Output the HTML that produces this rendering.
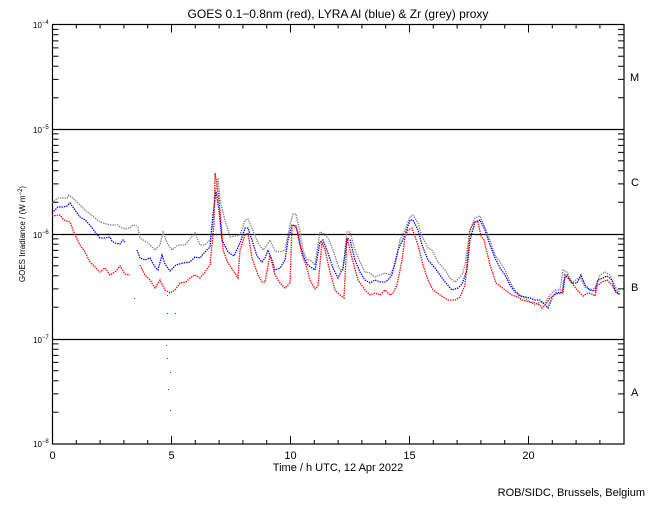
<!DOCTYPE html>
<html><head><style>
body{margin:0;background:#fff;}
svg text{font-family:"Liberation Sans",sans-serif;fill:#000;}
</style></head><body>
<svg width="650" height="500" xmlns="http://www.w3.org/2000/svg">
<rect width="650" height="500" fill="#fff"/>
<text x="338" y="18" font-size="12" text-anchor="middle">GOES 0.1−0.8nm (red), LYRA Al (blue) &amp; Zr (grey) proxy</text>
<g stroke="#000" fill="none">
<rect x="52.5" y="24.5" width="571.5" height="419.5" stroke-width="1.2"/>
<line x1="52" y1="129.5" x2="624" y2="129.5" stroke-width="1.3"/>
<line x1="52" y1="234.5" x2="624" y2="234.5" stroke-width="1.3"/>
<line x1="52" y1="339.5" x2="624" y2="339.5" stroke-width="1.3"/>
<path d="M76.3,444v-4M100.1,444v-4M123.9,444v-4M147.7,444v-4M171.5,444v-8M195.3,444v-4M219.1,444v-4M242.9,444v-4M266.7,444v-4M290.5,444v-8M314.3,444v-4M338.1,444v-4M361.9,444v-4M385.7,444v-4M409.5,444v-8M433.3,444v-4M457.1,444v-4M480.9,444v-4M504.7,444v-4M528.5,444v-8M552.3,444v-4M576.1,444v-4M599.9,444v-4"/>
<path d="M76.3,24.5v4M100.1,24.5v4M123.9,24.5v4M147.7,24.5v4M171.5,24.5v8M195.3,24.5v4M219.1,24.5v4M242.9,24.5v4M266.7,24.5v4M290.5,24.5v8M314.3,24.5v4M338.1,24.5v4M361.9,24.5v4M385.7,24.5v4M409.5,24.5v8M433.3,24.5v4M457.1,24.5v4M480.9,24.5v4M504.7,24.5v4M528.5,24.5v8M552.3,24.5v4M576.1,24.5v4M599.9,24.5v4"/>
</g>
<g stroke="#000">
<path d="M52.5,97.8h6M52.5,79.4h6M52.5,66.3h6M52.5,56.2h6M52.5,47.9h6M52.5,40.9h6M52.5,34.8h6M52.5,29.4h6
M52.5,202.3h6M52.5,183.9h6M52.5,170.8h6M52.5,160.7h6M52.5,152.4h6M52.5,145.4h6M52.5,139.3h6M52.5,133.9h6
M52.5,307.3h6M52.5,288.9h6M52.5,275.8h6M52.5,265.7h6M52.5,257.4h6M52.5,250.4h6M52.5,244.3h6M52.5,238.9h6
M52.5,412.3h6M52.5,393.9h6M52.5,380.8h6M52.5,370.7h6M52.5,362.4h6M52.5,355.4h6M52.5,349.3h6M52.5,343.9h6"/>
<path transform="translate(676.5,0) scale(-1,1)" d="M52.5,97.8h6M52.5,79.4h6M52.5,66.3h6M52.5,56.2h6M52.5,47.9h6M52.5,40.9h6M52.5,34.8h6M52.5,29.4h6
M52.5,202.3h6M52.5,183.9h6M52.5,170.8h6M52.5,160.7h6M52.5,152.4h6M52.5,145.4h6M52.5,139.3h6M52.5,133.9h6
M52.5,307.3h6M52.5,288.9h6M52.5,275.8h6M52.5,265.7h6M52.5,257.4h6M52.5,250.4h6M52.5,244.3h6M52.5,238.9h6
M52.5,412.3h6M52.5,393.9h6M52.5,380.8h6M52.5,370.7h6M52.5,362.4h6M52.5,355.4h6M52.5,349.3h6M52.5,343.9h6"/>
</g>
<g font-size="8">
<text x="33" y="28">10<tspan dy="-4" font-size="6">−4</tspan></text>
<text x="33" y="133">10<tspan dy="-4" font-size="6">−5</tspan></text>
<text x="33" y="238">10<tspan dy="-4" font-size="6">−6</tspan></text>
<text x="33" y="343">10<tspan dy="-4" font-size="6">−7</tspan></text>
<text x="33" y="447">10<tspan dy="-4" font-size="6">−8</tspan></text>
</g>
<text transform="translate(25,234) rotate(-90)" font-size="8" text-anchor="middle">GOES Irradiance / (W m<tspan dy="-3" font-size="6">−2</tspan><tspan dy="3">)</tspan></text>
<g font-size="11" text-anchor="middle">
<text x="52.5" y="459">0</text><text x="171.5" y="459">5</text><text x="290.5" y="459">10</text><text x="409.5" y="459">15</text><text x="528.5" y="459">20</text>
<text x="338" y="471" font-size="11">Time / h UTC, 12 Apr 2022</text>
</g>
<g font-size="11">
<text x="630" y="81">M</text><text x="631" y="186">C</text><text x="631" y="291">B</text><text x="631" y="396">A</text>
<text x="645" y="496" text-anchor="end">ROB/SIDC, Brussels, Belgium</text>
</g>
<g fill="none" stroke-width="1.3" stroke-dasharray="1.4 1">
<g stroke="#808080">
<polyline points="52,203 58,198 67,198 69,195 75,200 85,210 95,218 100,222 110,225 118,225 120,227 125,229 130,228 133,225 137,226"/>
<polyline points="138,227 140,238 148,243 155,250 160,245 163,232 167,243 172,250 178,245 185,245 190,239 195,233 200,245 205,245 210,240 212,228 215,195 218,178 220,200 225,220 230,237 235,236 240,235 245,220 248,219 252,228 258,243 263,250 267,245 270,240 275,251 280,252 285,250 290,225 293,214 296,214 300,232 303,250 307,260 310,260 315,265 320,232 323,233 328,238 333,250 338,265 340,270 343,270 347,232 350,232 355,250 360,262 365,272 370,273 375,277 380,275 385,273 390,275 395,265 400,240 405,230 410,217 413,215 418,223 422,236 428,248 432,250 438,262 445,270 450,278 455,282 462,275 465,265 470,230 475,218 480,216 484,225 490,240 495,255 500,262 505,270 510,282 515,290 520,295 525,298 530,302 535,305 540,302 545,303 550,295 555,290 560,290 563,270 567,272 572,283 576,280 580,277 585,287 590,290 595,288 600,275 605,272 610,275 613,282 617,290 620,292"/>
</g>
<g stroke="#0000ff">
<polyline points="52,213 58,207 63,207 67,206 70,203 75,210 80,217 85,220 90,225 95,232 100,238 105,238 110,237 112,241 115,243 120,244 123,240 125,242"/>
<polyline points="137,250 140,258 145,260 150,258 155,267 158,270 162,255 165,264 170,271 176,265 183,263 190,262 195,257 200,258 205,252 210,247 213,215 216,192 219,210 222,240 228,252 234,256 240,243 245,228 248,228 252,240 257,256 262,262 265,258 268,250 272,260 275,270 280,268 285,260 288,240 292,225 296,226 300,245 305,260 308,265 315,270 320,242 323,240 328,253 333,268 338,278 343,268 347,238 350,240 355,260 360,272 365,280 370,283 375,280 380,282 385,282 388,280 392,275 398,250 405,235 410,220 413,220 418,230 422,245 428,260 435,268 440,275 445,282 452,290 458,288 462,284 467,270 470,240 475,222 480,220 485,230 490,245 495,258 500,268 505,275 510,285 515,292 520,296 525,297 530,298 535,300 540,300 545,305 548,308 553,296 556,293 563,292 565,275 568,278 572,283 577,283 581,275 585,285 590,290 595,291 598,280 603,278 607,276 612,280 615,290 620,295"/>
</g>
<g stroke="#ff0000">
<polyline points="52,216 60,215 64,220 70,222 75,235 80,245 85,252 90,262 95,267 100,272 105,268 110,275 115,272 120,266 125,274 130,275"/>
<polyline points="140,265 145,275 150,280 155,288 160,280 165,290 170,293 175,290 180,283 186,282 190,278 195,275 200,278 205,272 210,265 214,225 215,173 217,185 220,210 223,250 228,263 233,270 238,278 240,250 245,235 248,233 252,258 258,275 262,282 265,282 270,255 275,275 280,283 285,288 290,283 292,226 295,226 298,232 302,255 306,265 310,280 315,289 318,286 322,242 325,250 330,272 335,290 340,295 344,298 347,238 352,258 358,280 365,290 370,295 375,293 380,295 385,290 390,295 393,293 397,285 402,260 405,237 408,230 412,228 418,245 423,265 428,280 433,290 440,295 448,300 455,300 460,297 465,285 470,230 474,222 478,222 481,236 484,240 490,265 496,283 500,286 505,290 512,295 518,297 522,300 526,301 530,302 535,303 540,305 542,308 546,304 550,298 556,294 562,293 564,280 567,275 570,280 577,290 583,296 588,293 592,294 595,296 597,286 602,282 607,280 612,285 616,293 620,294"/>
</g>
</g>
<g fill="#ff0000">
<rect x="134" y="298" width="1" height="1"/><rect x="167" y="313" width="1" height="1"/><rect x="166" y="345" width="1" height="1"/><rect x="167" y="358" width="1" height="1"/><rect x="170" y="372" width="1" height="1"/><rect x="168" y="389" width="1" height="1"/><rect x="170" y="410" width="1" height="1"/><rect x="175" y="313" width="1" height="1"/><rect x="167" y="295" width="1" height="1"/>
</g>
</svg>
</body></html>
